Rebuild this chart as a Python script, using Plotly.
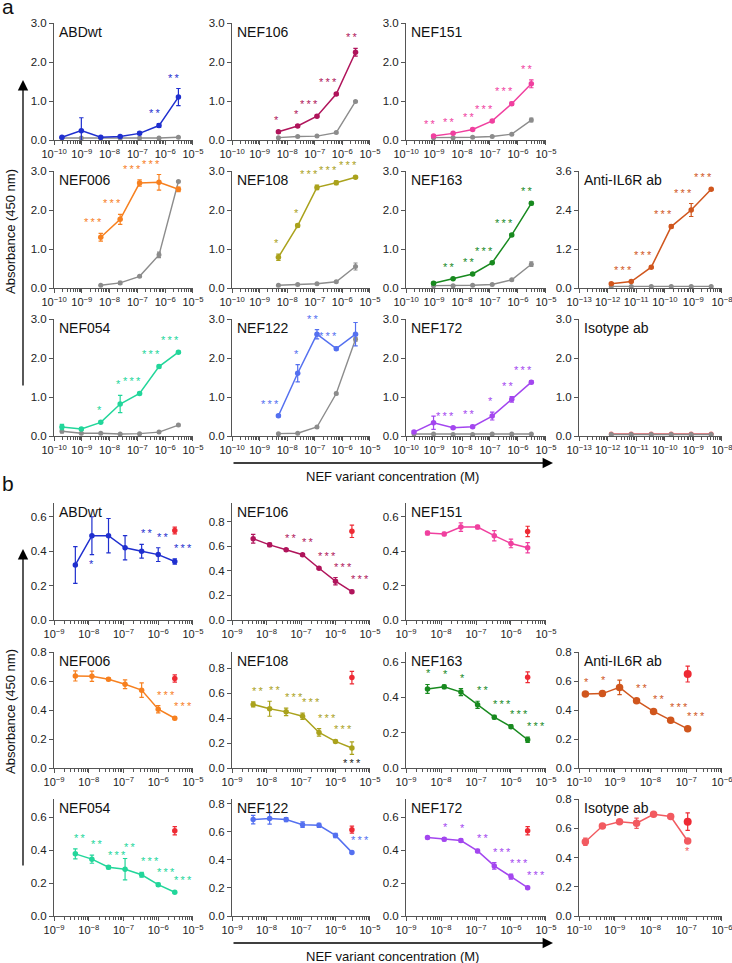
import numpy as np
import plotly.graph_objects as go

W, H = 732, 963
FONT = "Liberation Sans, Arial, sans-serif"
AX = "#555555"
GRAY = "#8c8c8c"
REF_RED = "#ee2a34"

# ---------------- concentrations (M) ----------------
conc_a7 = [1.92e-10, 9.6e-10, 4.8e-9, 2.4e-8, 1.2e-7, 6.0e-7, 3.0e-6]
conc_a6 = [9.6e-10, 4.8e-9, 2.4e-8, 1.2e-7, 6.0e-7, 3.0e-6]
conc_a5 = [4.8e-9, 2.4e-8, 1.2e-7, 6.0e-7, 3.0e-6]
conc_ab_a = [1.34e-12, 6.7e-12, 3.36e-11, 1.68e-10, 8.4e-10, 4.2e-9]
conc_b = [4.1e-9, 1.23e-8, 3.7e-8, 1.11e-7, 3.33e-7, 1.0e-6, 3.0e-6]
conc_ab_b = [1.5e-10, 4.5e-10, 1.36e-9, 4.07e-9, 1.22e-8, 3.67e-8, 1.1e-7]

# ---------------- panel a ----------------
a_abdwt = [0.07, 0.24, 0.07, 0.09, 0.17, 0.37, 1.10]
a_abdwt_err = [0.02, 0.33, 0.02, 0.02, 0.03, 0.05, 0.22]
a_abdwt_ctrl = [0.05, 0.05, 0.05, 0.05, 0.05, 0.05, 0.07]
a_abdwt_ctrl_err = [0.01, 0.01, 0.01, 0.01, 0.01, 0.01, 0.01]
a_abdwt_sig = ["", "", "", "", "", "**", "**"]

a_nef106 = [0.21, 0.36, 0.61, 1.18, 2.25]
a_nef106_err = [0.03, 0.03, 0.03, 0.03, 0.10]
a_nef106_ctrl = [0.06, 0.09, 0.10, 0.19, 0.99]
a_nef106_ctrl_err = [0.01, 0.01, 0.01, 0.02, 0.02]
a_nef106_sig = ["*", "*", "***", "***", "**"]

a_nef151 = [0.10, 0.17, 0.27, 0.49, 0.93, 1.44]
a_nef151_err = [0.02, 0.02, 0.03, 0.03, 0.04, 0.10]
a_nef151_ctrl = [0.06, 0.06, 0.07, 0.09, 0.15, 0.51]
a_nef151_ctrl_err = [0.01, 0.01, 0.01, 0.01, 0.02, 0.05]
a_nef151_sig = ["**", "**", "**", "***", "***", "**"]

a_nef006 = [1.30, 1.76, 2.69, 2.71, 2.53]
a_nef006_err = [0.10, 0.13, 0.08, 0.20, 0.06]
a_nef006_ctrl = [0.07, 0.13, 0.30, 0.85, 2.73]
a_nef006_ctrl_err = [0.01, 0.04, 0.02, 0.07, 0.02]
a_nef006_sig = ["***", "***", "***", "***", ""]

a_nef108 = [0.79, 1.60, 2.58, 2.70, 2.84]
a_nef108_err = [0.08, 0.04, 0.06, 0.05, 0.03]
a_nef108_ctrl = [0.07, 0.09, 0.11, 0.16, 0.55]
a_nef108_ctrl_err = [0.01, 0.01, 0.01, 0.02, 0.09]
a_nef108_sig = ["*", "*", "***", "***", "***"]

a_nef163 = [0.12, 0.24, 0.36, 0.65, 1.36, 2.17]
a_nef163_err = [0.03, 0.02, 0.02, 0.02, 0.03, 0.04]
a_nef163_ctrl = [0.06, 0.06, 0.07, 0.09, 0.21, 0.61]
a_nef163_ctrl_err = [0.01, 0.01, 0.01, 0.01, 0.02, 0.06]
a_nef163_sig = ["", "**", "**", "***", "***", "**"]

a_il6r = [0.13, 0.20, 0.64, 1.89, 2.40, 3.04]
a_il6r_err = [0.02, 0.02, 0.03, 0.05, 0.20, 0.03]
a_il6r_ctrl = [0.05, 0.05, 0.05, 0.05, 0.05, 0.05]
a_il6r_ctrl_err = [0.01, 0.01, 0.01, 0.01, 0.01, 0.01]
a_il6r_sig = ["", "***", "***", "***", "***", "***"]

a_nef054 = [0.23, 0.18, 0.35, 0.82, 1.09, 1.78, 2.15]
a_nef054_err = [0.07, 0.03, 0.03, 0.22, 0.03, 0.04, 0.03]
a_nef054_ctrl = [0.12, 0.07, 0.07, 0.05, 0.06, 0.10, 0.28]
a_nef054_ctrl_err = [0.04, 0.01, 0.01, 0.01, 0.01, 0.01, 0.02]
a_nef054_sig = ["", "", "*", "*", "***", "***", "***"]

a_nef122 = [0.52, 1.61, 2.61, 2.24, 2.61]
a_nef122_err = [0.03, 0.22, 0.12, 0.04, 0.30]
a_nef122_ctrl = [0.06, 0.07, 0.23, 1.09, 2.48]
a_nef122_ctrl_err = [0.01, 0.01, 0.02, 0.03, 0.05]
a_nef122_sig = ["***", "*", "**", "***", ""]

a_nef172 = [0.10, 0.34, 0.21, 0.24, 0.51, 0.94, 1.38]
a_nef172_err = [0.03, 0.17, 0.03, 0.03, 0.10, 0.07, 0.04]
a_nef172_ctrl = [0.05, 0.05, 0.04, 0.04, 0.05, 0.05, 0.05]
a_nef172_ctrl_err = [0.01, 0.01, 0.01, 0.01, 0.01, 0.01, 0.01]
a_nef172_sig = ["", "", "***", "**", "*", "**", "***"]

a_iso = [0.05, 0.05, 0.05, 0.05, 0.05, 0.05]
a_iso_err = [0.01, 0.01, 0.01, 0.01, 0.01, 0.01]
a_iso_ctrl = [0.04, 0.04, 0.04, 0.04, 0.04, 0.04]
a_iso_ctrl_err = [0.01, 0.01, 0.01, 0.01, 0.01, 0.01]
a_iso_sig = ["", "", "", "", "", ""]

# ---------------- panel b ----------------
b_abdwt = [0.32, 0.49, 0.49, 0.42, 0.40, 0.38, 0.34]
b_abdwt_err = [0.107, 0.11, 0.10, 0.07, 0.04, 0.04, 0.015]
b_abdwt_ref = [0.52]
b_abdwt_ref_err = [0.02]
b_abdwt_sig = ["", "", "", "", "**", "**", "***"]
b_abdwt_sig_under = ["", "*", "", "", "", "", ""]

b_nef106 = [0.66, 0.61, 0.57, 0.53, 0.42, 0.315, 0.23]
b_nef106_err = [0.035, 0.015, 0.01, 0.01, 0.01, 0.03, 0.01]
b_nef106_ref = [0.72]
b_nef106_ref_err = [0.05]
b_nef106_sig = ["", "", "**", "**", "***", "***", "***"]
b_nef106_sig_under = ["", "", "", "", "", "", ""]

b_nef151 = [0.505, 0.50, 0.54, 0.54, 0.49, 0.445, 0.42]
b_nef151_err = [0.01, 0.01, 0.025, 0.01, 0.03, 0.025, 0.03]
b_nef151_ref = [0.515]
b_nef151_ref_err = [0.03]
b_nef151_sig = ["", "", "", "", "", "", ""]
b_nef151_sig_under = ["", "", "", "", "", "", ""]

b_nef006 = [0.635, 0.633, 0.612, 0.578, 0.537, 0.405, 0.343]
b_nef006_err = [0.035, 0.035, 0.01, 0.03, 0.05, 0.025, 0.01]
b_nef006_ref = [0.617]
b_nef006_ref_err = [0.025]
b_nef006_sig = ["", "", "", "", "", "***", "***"]
b_nef006_sig_under = ["", "", "", "", "", "", ""]

b_nef108 = [0.51, 0.475, 0.45, 0.415, 0.285, 0.213, 0.16]
b_nef108_err = [0.02, 0.06, 0.03, 0.025, 0.03, 0.01, 0.05]
b_nef108_ref = [0.725]
b_nef108_ref_err = [0.05]
b_nef108_sig = ["**", "**", "***", "***", "***", "***", ""]
b_nef108_sig_under = ["", "", "", "", "", "", "***"]

b_nef163 = [0.448, 0.46, 0.43, 0.358, 0.288, 0.234, 0.16]
b_nef163_err = [0.025, 0.01, 0.02, 0.02, 0.01, 0.01, 0.015]
b_nef163_ref = [0.514]
b_nef163_ref_err = [0.03]
b_nef163_sig = ["*", "*", "*", "**", "***", "***", "***"]
b_nef163_sig_under = ["", "", "", "", "", "", ""]

b_il6r = [0.51, 0.513, 0.556, 0.464, 0.39, 0.33, 0.27]
b_il6r_err = [0.01, 0.015, 0.05, 0.01, 0.01, 0.015, 0.01]
b_il6r_ref = [0.648]
b_il6r_ref_err = [0.055]
b_il6r_sig = ["*", "*", "", "**", "**", "***", "***"]
b_il6r_sig_under = ["", "", "", "", "", "", ""]

b_nef054 = [0.377, 0.345, 0.296, 0.284, 0.25, 0.19, 0.144]
b_nef054_err = [0.03, 0.025, 0.01, 0.065, 0.015, 0.01, 0.005]
b_nef054_ref = [0.517]
b_nef054_ref_err = [0.025]
b_nef054_sig = ["**", "**", "***", "**", "***", "***", "***"]
b_nef054_sig_under = ["", "", "", "", "", "", ""]

b_nef122 = [0.688, 0.695, 0.688, 0.652, 0.647, 0.575, 0.454]
b_nef122_err = [0.03, 0.04, 0.015, 0.02, 0.015, 0.015, 0.008]
b_nef122_ref = [0.616]
b_nef122_ref_err = [0.025]
b_nef122_sig = ["", "", "", "", "", "", "***"]
b_nef122_sig_under = ["", "", "", "", "", "", ""]

b_nef172 = [0.476, 0.466, 0.458, 0.395, 0.304, 0.239, 0.172]
b_nef172_err = [0.008, 0.01, 0.01, 0.01, 0.02, 0.015, 0.008]
b_nef172_ref = [0.517]
b_nef172_ref_err = [0.025]
b_nef172_sig = ["", "*", "*", "**", "***", "***", "***"]
b_nef172_sig_under = ["", "", "", "", "", "", ""]

b_iso = [0.508, 0.615, 0.645, 0.634, 0.695, 0.68, 0.513]
b_iso_err = [0.025, 0.01, 0.01, 0.035, 0.01, 0.01, 0.01]
b_iso_ref = [0.645]
b_iso_ref_err = [0.06]
b_iso_sig = ["", "", "", "", "", "", ""]
b_iso_sig_under = ["", "", "", "", "", "", "*"]

# ---------------- colours ----------------
C = {
    "ABDwt": "#1f2fcf", "NEF106": "#b0145b", "NEF151": "#f0409f",
    "NEF006": "#f7801f", "NEF108": "#aaa21c", "NEF163": "#188a1f",
    "Anti-IL6R ab": "#d0561d", "NEF054": "#22d69a", "NEF122": "#5470f0",
    "NEF172": "#a346ef", "Isotype ab": "#f25a60",
}

# ---------------- layout geometry (pixels) ----------------
COLS = [(54, 193), (232, 370), (406, 546), (579, 722)]
A_ROWS = [(23, 140), (171, 288), (319, 436)]
B_ROWS = [(503, 620), (652, 768), (799, 916)]

panel_a = [
    ("ABDwt", 0, 0, conc_a7, a_abdwt, a_abdwt_err, a_abdwt_ctrl, a_abdwt_ctrl_err, a_abdwt_sig),
    ("NEF106", 0, 1, conc_a5, a_nef106, a_nef106_err, a_nef106_ctrl, a_nef106_ctrl_err, a_nef106_sig),
    ("NEF151", 0, 2, conc_a6, a_nef151, a_nef151_err, a_nef151_ctrl, a_nef151_ctrl_err, a_nef151_sig),
    ("NEF006", 1, 0, conc_a5, a_nef006, a_nef006_err, a_nef006_ctrl, a_nef006_ctrl_err, a_nef006_sig),
    ("NEF108", 1, 1, conc_a5, a_nef108, a_nef108_err, a_nef108_ctrl, a_nef108_ctrl_err, a_nef108_sig),
    ("NEF163", 1, 2, conc_a6, a_nef163, a_nef163_err, a_nef163_ctrl, a_nef163_ctrl_err, a_nef163_sig),
    ("Anti-IL6R ab", 1, 3, conc_ab_a, a_il6r, a_il6r_err, a_il6r_ctrl, a_il6r_ctrl_err, a_il6r_sig),
    ("NEF054", 2, 0, conc_a7, a_nef054, a_nef054_err, a_nef054_ctrl, a_nef054_ctrl_err, a_nef054_sig),
    ("NEF122", 2, 1, conc_a5, a_nef122, a_nef122_err, a_nef122_ctrl, a_nef122_ctrl_err, a_nef122_sig),
    ("NEF172", 2, 2, conc_a7, a_nef172, a_nef172_err, a_nef172_ctrl, a_nef172_ctrl_err, a_nef172_sig),
    ("Isotype ab", 2, 3, conc_ab_a, a_iso, a_iso_err, a_iso_ctrl, a_iso_ctrl_err, a_iso_sig),
]
panel_b = [
    ("ABDwt", 0, 0, conc_b, b_abdwt, b_abdwt_err, b_abdwt_ref, b_abdwt_ref_err, b_abdwt_sig, b_abdwt_sig_under, 0.68),
    ("NEF106", 0, 1, conc_b, b_nef106, b_nef106_err, b_nef106_ref, b_nef106_ref_err, b_nef106_sig, b_nef106_sig_under, 0.95),
    ("NEF151", 0, 2, conc_b, b_nef151, b_nef151_err, b_nef151_ref, b_nef151_ref_err, b_nef151_sig, b_nef151_sig_under, 0.68),
    ("NEF006", 1, 0, conc_b, b_nef006, b_nef006_err, b_nef006_ref, b_nef006_ref_err, b_nef006_sig, b_nef006_sig_under, 0.80),
    ("NEF108", 1, 1, conc_b, b_nef108, b_nef108_err, b_nef108_ref, b_nef108_ref_err, b_nef108_sig, b_nef108_sig_under, 0.93),
    ("NEF163", 1, 2, conc_b, b_nef163, b_nef163_err, b_nef163_ref, b_nef163_ref_err, b_nef163_sig, b_nef163_sig_under, 0.657),
    ("Anti-IL6R ab", 1, 3, conc_ab_b, b_il6r, b_il6r_err, b_il6r_ref, b_il6r_ref_err, b_il6r_sig, b_il6r_sig_under, 0.80),
    ("NEF054", 2, 0, conc_b, b_nef054, b_nef054_err, b_nef054_ref, b_nef054_ref_err, b_nef054_sig, b_nef054_sig_under, 0.71),
    ("NEF122", 2, 1, conc_b, b_nef122, b_nef122_err, b_nef122_ref, b_nef122_ref_err, b_nef122_sig, b_nef122_sig_under, 0.835),
    ("NEF172", 2, 2, conc_b, b_nef172, b_nef172_err, b_nef172_ref, b_nef172_ref_err, b_nef172_sig, b_nef172_sig_under, 0.71),
    ("Isotype ab", 2, 3, conc_ab_b, b_iso, b_iso_err, b_iso_ref, b_iso_ref_err, b_iso_sig, b_iso_sig_under, 0.80),
]

fig = go.Figure()
annotations = []
axes = {}
SP = "\u2009"
EPS = 0.002


def spaced(s):
    return SP.join(list(s))


def xdom(c):
    return [c[0] / W, c[1] / W]


def ydom(r):
    return [1 - r[1] / H, 1 - r[0] / H]


def log_axis(lo, hi, col):
    tv = [10.0 ** k for k in range(lo, hi + 1)]
    tt = ["10<sup>\u2212%d</sup>" % abs(k) for k in range(lo, hi + 1)]
    mv = [m * 10.0 ** k for k in range(lo, hi) for m in range(2, 10)]
    return dict(
        type="log", range=[lo - EPS, hi + EPS], domain=xdom(COLS[col]), automargin=False,
        tickmode="array", tickvals=tv, ticktext=tt, tickangle=0, ticklabeloverflow="allow",
        ticks="outside", ticklen=4, tickwidth=1, tickcolor=AX,
        minor=dict(tickmode="array", tickvals=mv, ticks="outside", ticklen=2.5,
                   tickwidth=0.8, tickcolor=AX, showgrid=False),
        showline=True, linecolor=AX, linewidth=1, showgrid=False, zeroline=False,
        tickfont=dict(size=11, color="#222", family=FONT),
    )


def lin_axis(top, dtick, row_px):
    return dict(
        range=[0, top], domain=ydom(row_px), dtick=dtick, tick0=0, tickformat=".1f",
        automargin=False, ticks="outside", ticklen=4, tickwidth=1, tickcolor=AX,
        ticklabeloverflow="allow",
        showline=True, linecolor=AX, linewidth=1, showgrid=False, zeroline=False,
        tickfont=dict(size=11.5, color="#222", family=FONT),
    )


def add_title(name, xn, yn):
    annotations.append(dict(
        text=name, xref=f"{xn} domain", yref=f"{yn} domain", x=0, y=1,
        xanchor="left", yanchor="top", xshift=3, yshift=1, showarrow=False,
        font=dict(size=14, color="#111", family=FONT)))


def add_star(xn, yn, xv, yv, s, color, anchor, xs, ys):
    annotations.append(dict(
        text=spaced(s), xref=xn, yref=yn, x=float(np.log10(xv)), y=yv,
        xanchor=anchor, yanchor="middle", xshift=xs, yshift=ys, showarrow=False,
        font=dict(size=11, color=color, family=FONT)))


idx = 0
for (name, r, c, conc, y, err, ctrl, ctrl_err, sig) in panel_a:
    idx += 1
    xn = "x" if idx == 1 else f"x{idx}"
    yn = "y" if idx == 1 else f"y{idx}"
    col = C[name]
    is_ab = c == 3
    axes["xaxis" if idx == 1 else f"xaxis{idx}"] = dict(
        log_axis(-13 if is_ab else -10, -8 if is_ab else -5, c), anchor=yn)
    top = 3.6 if name == "Anti-IL6R ab" else 3.0
    dt = 1.2 if name == "Anti-IL6R ab" else 1.0
    axes["yaxis" if idx == 1 else f"yaxis{idx}"] = dict(lin_axis(top, dt, A_ROWS[r]), anchor=xn)
    if name == "Isotype ab":
        fig.add_trace(go.Scatter(x=conc, y=y, xaxis=xn, yaxis=yn, mode="lines+markers",
                                 line=dict(color=col, width=1.4), marker=dict(size=5, color=col),
                                 showlegend=False, cliponaxis=False))
    fig.add_trace(go.Scatter(
        x=conc, y=ctrl, xaxis=xn, yaxis=yn, mode="lines+markers",
        line=dict(color=GRAY, width=1.4), marker=dict(size=5, color=GRAY),
        error_y=dict(type="data", array=ctrl_err, color=GRAY, thickness=1.1, width=2),
        showlegend=False, cliponaxis=False))
    if name != "Isotype ab":
        fig.add_trace(go.Scatter(
            x=conc, y=y, xaxis=xn, yaxis=yn, mode="lines+markers",
            line=dict(color=col, width=1.5), marker=dict(size=5.5, color=col),
            error_y=dict(type="data", array=err, color=col, thickness=1.2, width=2.2),
            showlegend=False, cliponaxis=False))
    for xv, yv, ev, s in zip(conc, y, err, sig):
        if s:
            add_star(xn, yn, xv, yv + ev, s, col, "right", 3, 11)
    add_title(name, xn, yn)

for (name, r, c, conc, y, err, ref, ref_err, sig, sig_u, top) in panel_b:
    idx += 1
    xn = f"x{idx}"
    yn = f"y{idx}"
    col = C[name]
    is_ab = c == 3
    axes[f"xaxis{idx}"] = dict(log_axis(-10 if is_ab else -9, -6 if is_ab else -5, c), anchor=yn)
    axes[f"yaxis{idx}"] = dict(lin_axis(top, 0.2, B_ROWS[r]), anchor=xn)
    msize = 7.5 if is_ab else 5.5
    fig.add_trace(go.Scatter(
        x=conc, y=y, xaxis=xn, yaxis=yn, mode="lines+markers",
        line=dict(color=col, width=1.5), marker=dict(size=msize, color=col),
        error_y=dict(type="data", array=err, color=col, thickness=1.2, width=2.2),
        showlegend=False, cliponaxis=False))
    fig.add_trace(go.Scatter(
        x=conc[-1:], y=ref, xaxis=xn, yaxis=yn, mode="markers",
        marker=dict(size=8 if is_ab else 5.5, color=REF_RED),
        error_y=dict(type="data", array=ref_err, color=REF_RED, thickness=1.2, width=2.2),
        showlegend=False, cliponaxis=False))
    for xv, yv, ev, s, su in zip(conc, y, err, sig, sig_u):
        if s:
            add_star(xn, yn, xv, yv + ev, s, col, "left", -3, 11)
        if su:
            ucol = "#222222" if name == "NEF108" else col
            add_star(xn, yn, xv, yv - ev, su, ucol, "center", 0, -9)
    add_title(name, xn, yn)

# ---------------- global labels & arrows ----------------
TXT = dict(family=FONT, color="#111")
annotations += [
    dict(text="a", xref="paper", yref="paper", x=0, y=1 + 7 / H, xanchor="left", yanchor="top",
         showarrow=False, font=dict(size=21, **TXT)),
    dict(text="b", xref="paper", yref="paper", x=0, y=1 - 470 / H, xanchor="left", yanchor="top",
         showarrow=False, font=dict(size=21, **TXT)),
    dict(text="Absorbance (450 nm)", xref="paper", yref="paper", x=10 / W, y=1 - 232 / H,
         xanchor="center", yanchor="middle",
         textangle=-90, showarrow=False, font=dict(size=13, **TXT)),
    dict(text="Absorbance (450 nm)", xref="paper", yref="paper", x=10 / W, y=1 - 712 / H,
         xanchor="center", yanchor="middle",
         textangle=-90, showarrow=False, font=dict(size=13, **TXT)),
    dict(text="NEF variant concentration (M)", xref="paper", yref="paper", x=392 / W, y=1 - 476 / H,
         xanchor="center", yanchor="middle", showarrow=False, font=dict(size=13, **TXT)),
    dict(text="NEF variant concentration (M)", xref="paper", yref="paper", x=392 / W, y=1 - 956 / H,
         xanchor="center", yanchor="middle", showarrow=False, font=dict(size=13, **TXT)),
]
for (tx, ty, axp, ayp) in [(23, 80, 0, 307), (23, 549, 0, 318), (553, 463, -321, 0), (553, 943, -321, 0)]:
    annotations.append(dict(text="", xref="paper", yref="paper", x=tx / W, y=1 - ty / H,
                            ax=axp, ay=ayp, axref="pixel", ayref="pixel", showarrow=True,
                            arrowhead=2, arrowsize=1.6, arrowwidth=1.3, arrowcolor="#000", standoff=0))

fig.update_layout(
    template="none",
    width=W, height=H, autosize=False,
    margin=dict(l=0, r=0, t=0, b=0, pad=0, autoexpand=False),
    paper_bgcolor="white", plot_bgcolor="white",
    font=dict(family=FONT, size=11, color="#222"),
    showlegend=False,
    annotations=annotations,
    **axes,
)

fig.write_html("out.html", config={"displayModeBar": False},
               post_script="document.body.style.margin='0px';")
